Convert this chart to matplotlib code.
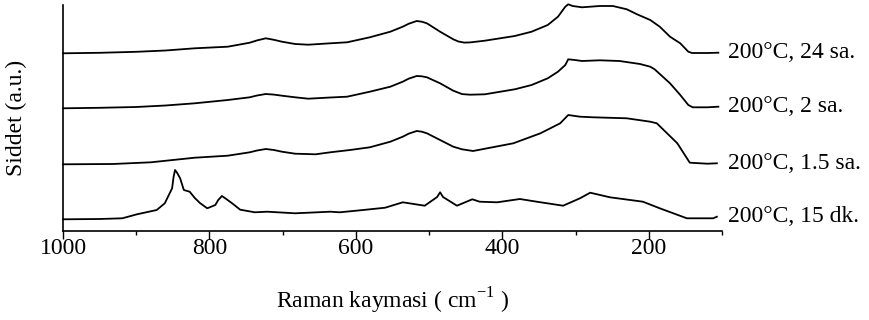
import matplotlib
matplotlib.use("Agg")
import matplotlib.pyplot as plt
from matplotlib.ticker import MultipleLocator

# Raman spectra (stacked, arbitrary intensity units)
shift_24h = [1000, 950, 900, 860, 820, 775, 745, 735, 723, 712, 701, 683, 665, 635, 612,
             581, 553, 536, 528, 517, 510, 503, 485, 467, 460, 452, 444, 424, 383, 360,
             338, 324, 314, 310, 304, 291, 267, 249, 230, 216, 198, 185, 171, 157, 146,
             141, 120, 105]
int_24h = [177.7, 178.2, 179.2, 180.5, 182.7, 184.3, 188.3, 190.6, 192.7, 191.2, 189.3, 187,
           186.3, 187.7, 188.7, 193.7, 199.3, 204.3, 207.2, 210, 209.3, 207.7, 199.3, 191.7,
           189.5, 188.4, 188.6, 190.3, 195, 199.3, 206, 214.3, 224.3, 226.7, 225, 223.7,
           225, 225, 221.7, 216.7, 211, 204.3, 194.3, 187.7, 179.3, 178, 178, 178.3]

shift_2h = [1000, 950, 900, 860, 820, 775, 745, 735, 723, 712, 701, 683, 665, 635, 612,
            581, 553, 536, 528, 517, 510, 503, 485, 467, 455, 444, 424, 383, 360, 338,
            324, 314, 310, 301, 291, 267, 240, 212, 198, 192, 171, 157, 146, 140, 120, 105]
int_2h = [122.7, 123.2, 124, 125.5, 127.7, 131, 133.7, 135.5, 137, 136.4, 135.3, 133.7,
          132.3, 133.5, 134.3, 139.3, 144.3, 149.3, 152.3, 155, 154.7, 153.7, 147.7, 140.3,
          136.9, 136.3, 136.7, 141.7, 146, 152.7, 159.3, 166, 171.7, 171, 170, 170.7, 170,
          167, 164.3, 161.7, 147.7, 136, 126, 123.7, 123.7, 124.3]

shift_1_5h = [1000, 932, 880, 820, 775, 745, 735, 723, 712, 701, 683, 655, 635, 608, 581,
              553, 536, 528, 517, 510, 503, 485, 467, 455, 440, 385, 348, 321, 310, 294,
              276, 230, 198, 189, 161, 144, 120, 107]
int_1_5h = [66.7, 67, 68.7, 73.3, 75.3, 78.7, 80.5, 82, 81, 79.3, 77.3, 76.7, 78.7, 81,
            83.7, 89.3, 94.3, 97.3, 100, 99.3, 97.7, 91, 84.3, 81.7, 80, 87.7, 97.7, 107.7,
            116, 114.3, 113.7, 112.7, 109.3, 107.7, 87.7, 68.3, 67.3, 67.7]

shift_15m = [1000, 950, 919, 899, 872, 861, 851, 849, 847, 844, 840, 835, 827, 820, 813,
             803, 792, 788, 783, 778, 769, 758, 738, 721, 683, 635, 622, 590, 560, 536,
             506, 489, 485, 481, 462, 441, 431, 407, 376, 353, 317, 294, 280, 253, 208,
             185, 148, 112, 107]
int_15m = [11.7, 12, 12.7, 16.7, 21, 27.7, 42.7, 54, 61, 58, 52.7, 41, 39.3, 33, 28, 22.7,
           26, 31, 35, 32.5, 27.7, 21.3, 18.7, 19.3, 17.7, 19.3, 18.7, 21, 23.3, 28.7, 25.3,
           34, 38.7, 34, 25.3, 31.7, 29.3, 28.7, 32, 29.3, 25.3, 32.7, 38.3, 33.7, 29.3,
           22.7, 12.7, 12.7, 14.3]

series_labels = ["200°C, 24 sa.", "200°C, 2 sa.", "200°C, 1.5 sa.", "200°C, 15 dk."]
x_ticks = [1000, 800, 600, 400, 200]

plt.rcParams["font.family"] = ["Liberation Serif", "DejaVu Serif"]
plt.rcParams["mathtext.fontset"] = "custom"
plt.rcParams["mathtext.rm"] = "Liberation Serif"

fig = plt.figure(figsize=(8.7, 3.2), dpi=100)
ax = fig.add_axes([63 / 870, 1 - 231 / 320, (722 - 63) / 870, (231 - 5) / 320])

spectra = [(shift_24h, int_24h), (shift_2h, int_2h),
           (shift_1_5h, int_1_5h), (shift_15m, int_15m)]
for (xs, ys), lab in zip(spectra, series_labels):
    ax.plot(xs, ys, color="black", lw=1.3, clip_on=False, solid_joinstyle="round")
    ax.text(1.0 + 6 / 659, ys[-1], lab, transform=ax.get_yaxis_transform(),
            ha="left", va="center", fontsize=17)

ax.set_xlim(1000, 100)
ax.set_ylim(0, 226)
ax.set_xticks(x_ticks)
ax.xaxis.set_minor_locator(MultipleLocator(100))
ax.set_yticks([])
ax.tick_params(axis="x", which="major", direction="out", length=6, width=1.0,
               labelsize=17, pad=-1)
ax.tick_params(axis="x", which="minor", direction="out", length=3, width=1.0)
for side in ("top", "right"):
    ax.spines[side].set_visible(False)
for side in ("left", "bottom"):
    ax.spines[side].set_linewidth(1.2)

ax.set_xlabel("Raman kaymasi ( cm$^{\\mathrm{-1}}$ )", fontsize=17, labelpad=19)
ax.set_ylabel("Siddet (a.u.)", fontsize=17, labelpad=26)

fig.savefig("out.png", dpi=100)
